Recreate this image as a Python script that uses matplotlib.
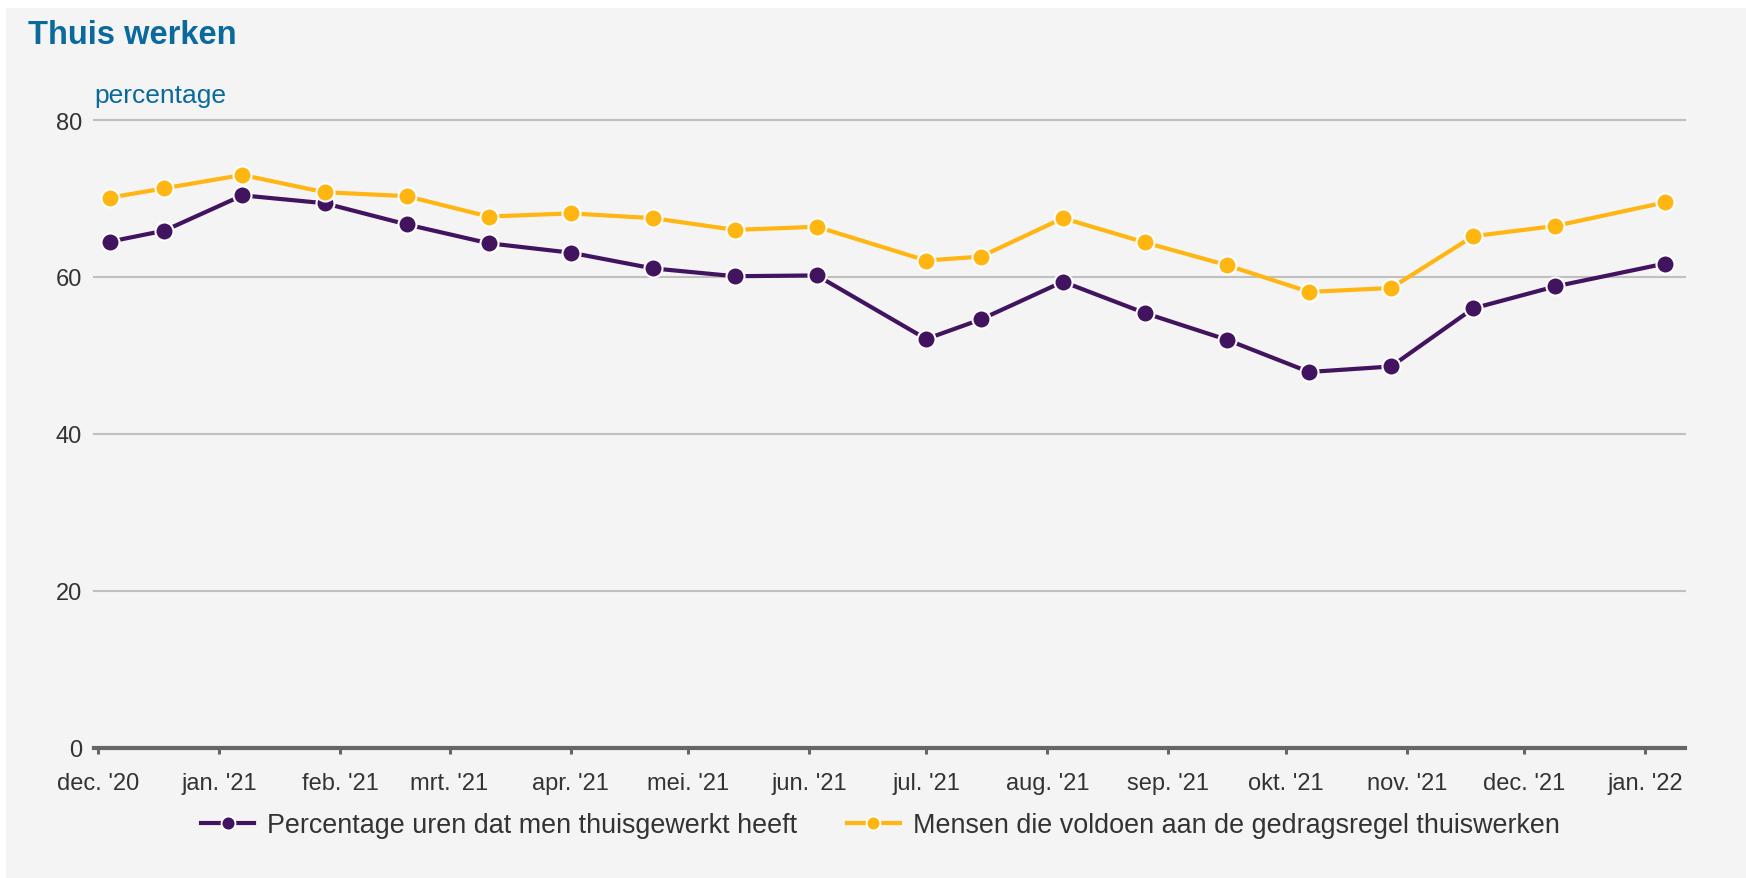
import matplotlib
matplotlib.use("Agg")
import matplotlib.pyplot as plt
from matplotlib.lines import Line2D
from matplotlib.patches import Rectangle
from datetime import datetime

plt.rcParams['font.family'] = ['Liberation Sans', 'DejaVu Sans']

# data
dates = ["2020-12-04", "2020-12-18", "2021-01-07", "2021-01-28", "2021-02-18",
         "2021-03-11", "2021-04-01", "2021-04-22", "2021-05-13", "2021-06-03",
         "2021-07-01", "2021-07-15", "2021-08-05", "2021-08-26", "2021-09-16",
         "2021-10-07", "2021-10-28", "2021-11-18", "2021-12-09", "2022-01-06"]
uren_thuis = [64.5, 65.9, 70.4, 69.4, 66.7, 64.3, 63.1, 61.1, 60.1, 60.2,
              52.1, 54.6, 59.4, 55.4, 52.0, 47.9, 48.6, 56.0, 58.8, 61.7]
voldoen = [70.1, 71.3, 73.0, 70.8, 70.3, 67.7, 68.1, 67.5, 66.0, 66.4,
           62.1, 62.6, 67.5, 64.4, 61.5, 58.1, 58.6, 65.2, 66.5, 69.5]
month_ticks = ["2020-12-01", "2021-01-01", "2021-02-01", "2021-03-01", "2021-04-01",
               "2021-05-01", "2021-06-01", "2021-07-01", "2021-08-01", "2021-09-01",
               "2021-10-01", "2021-11-01", "2021-12-01", "2022-01-01"]
month_labels = ["dec. '20", "jan. '21", "feb. '21", "mrt. '21", "apr. '21", "mei. '21",
                "jun. '21", "jul. '21", "aug. '21", "sep. '21", "okt. '21", "nov. '21",
                "dec. '21", "jan. '22"]
y_ticks = [0, 20, 40, 60, 80]
labels = ["Percentage uren dat men thuisgewerkt heeft",
          "Mensen die voldoen aan de gedragsregel thuiswerken"]

purple = "#42145f"
yellow = "#ffb612"
blue = "#0b6a9c"
text_col = "#333333"

x = [datetime.strptime(d, "%Y-%m-%d") for d in dates]
xt = [datetime.strptime(d, "%Y-%m-%d") for d in month_ticks]

W, H = 1746, 879
fig = plt.figure(figsize=(W / 100, H / 100), dpi=100, facecolor="white")
fig.patches.append(Rectangle((6 / W, 0), 1, 1 - 9 / H, transform=fig.transFigure,
                             facecolor="#f4f4f4", edgecolor="none", zorder=-10))

ax = fig.add_axes([94 / W, 1 - 749 / H, (1685 - 94) / W, (749 - 121) / H])
ax.set_facecolor("none")

for yv in y_ticks[1:]:
    ax.axhline(yv, color="#c0c0c0", lw=1.5, zorder=1, clip_on=False)

ax.plot(x, uren_thuis, color=purple, lw=3.0, marker="o", ms=13,
        mfc=purple, mec="white", mew=1.5, zorder=3, clip_on=False)
ax.plot(x, voldoen, color=yellow, lw=3.0, marker="o", ms=13,
        mfc=yellow, mec="white", mew=1.5, zorder=4, clip_on=False)

ax.set_xlim(datetime(2020, 11, 30), datetime(2022, 1, 11, 5))
ax.set_ylim(0, 80)
ax.set_xticks(xt)
ax.set_xticklabels(month_labels)
ax.set_yticks(y_ticks)

for s in ["top", "right", "left"]:
    ax.spines[s].set_visible(False)
ax.spines["bottom"].set_color("#666666")
ax.spines["bottom"].set_linewidth(3)
ax.spines["bottom"].set_zorder(5)

ax.tick_params(axis="x", colors="#666666", length=4, width=2.2, pad=13,
               labelsize=17, labelcolor=text_col)
ax.tick_params(axis="y", length=0, pad=8.5, labelsize=17, labelcolor=text_col)

fig.text(28 / W, 1 - 44 / H, "Thuis werken", fontsize=23.5, fontweight="bold",
         color=blue, va="baseline", ha="left")
fig.text(94 / W, 1 - 103 / H, "percentage", fontsize=19, color=blue,
         va="baseline", ha="left")

handles = [Line2D([], [], color=purple, lw=3.0, marker="o", ms=10, mfc=purple,
                  mec="white", mew=1.3),
           Line2D([], [], color=yellow, lw=3.0, marker="o", ms=10, mfc=yellow,
                  mec="white", mew=1.3)]
fig.legend(handles, labels, loc="center", bbox_to_anchor=(880 / W, 1 - 826 / H),
           ncol=2, frameon=False, fontsize=19.4, handlelength=2.0,
           handletextpad=0.45, columnspacing=1.85, labelcolor=text_col)

fig.savefig("out.png", dpi=100, facecolor=fig.get_facecolor())
